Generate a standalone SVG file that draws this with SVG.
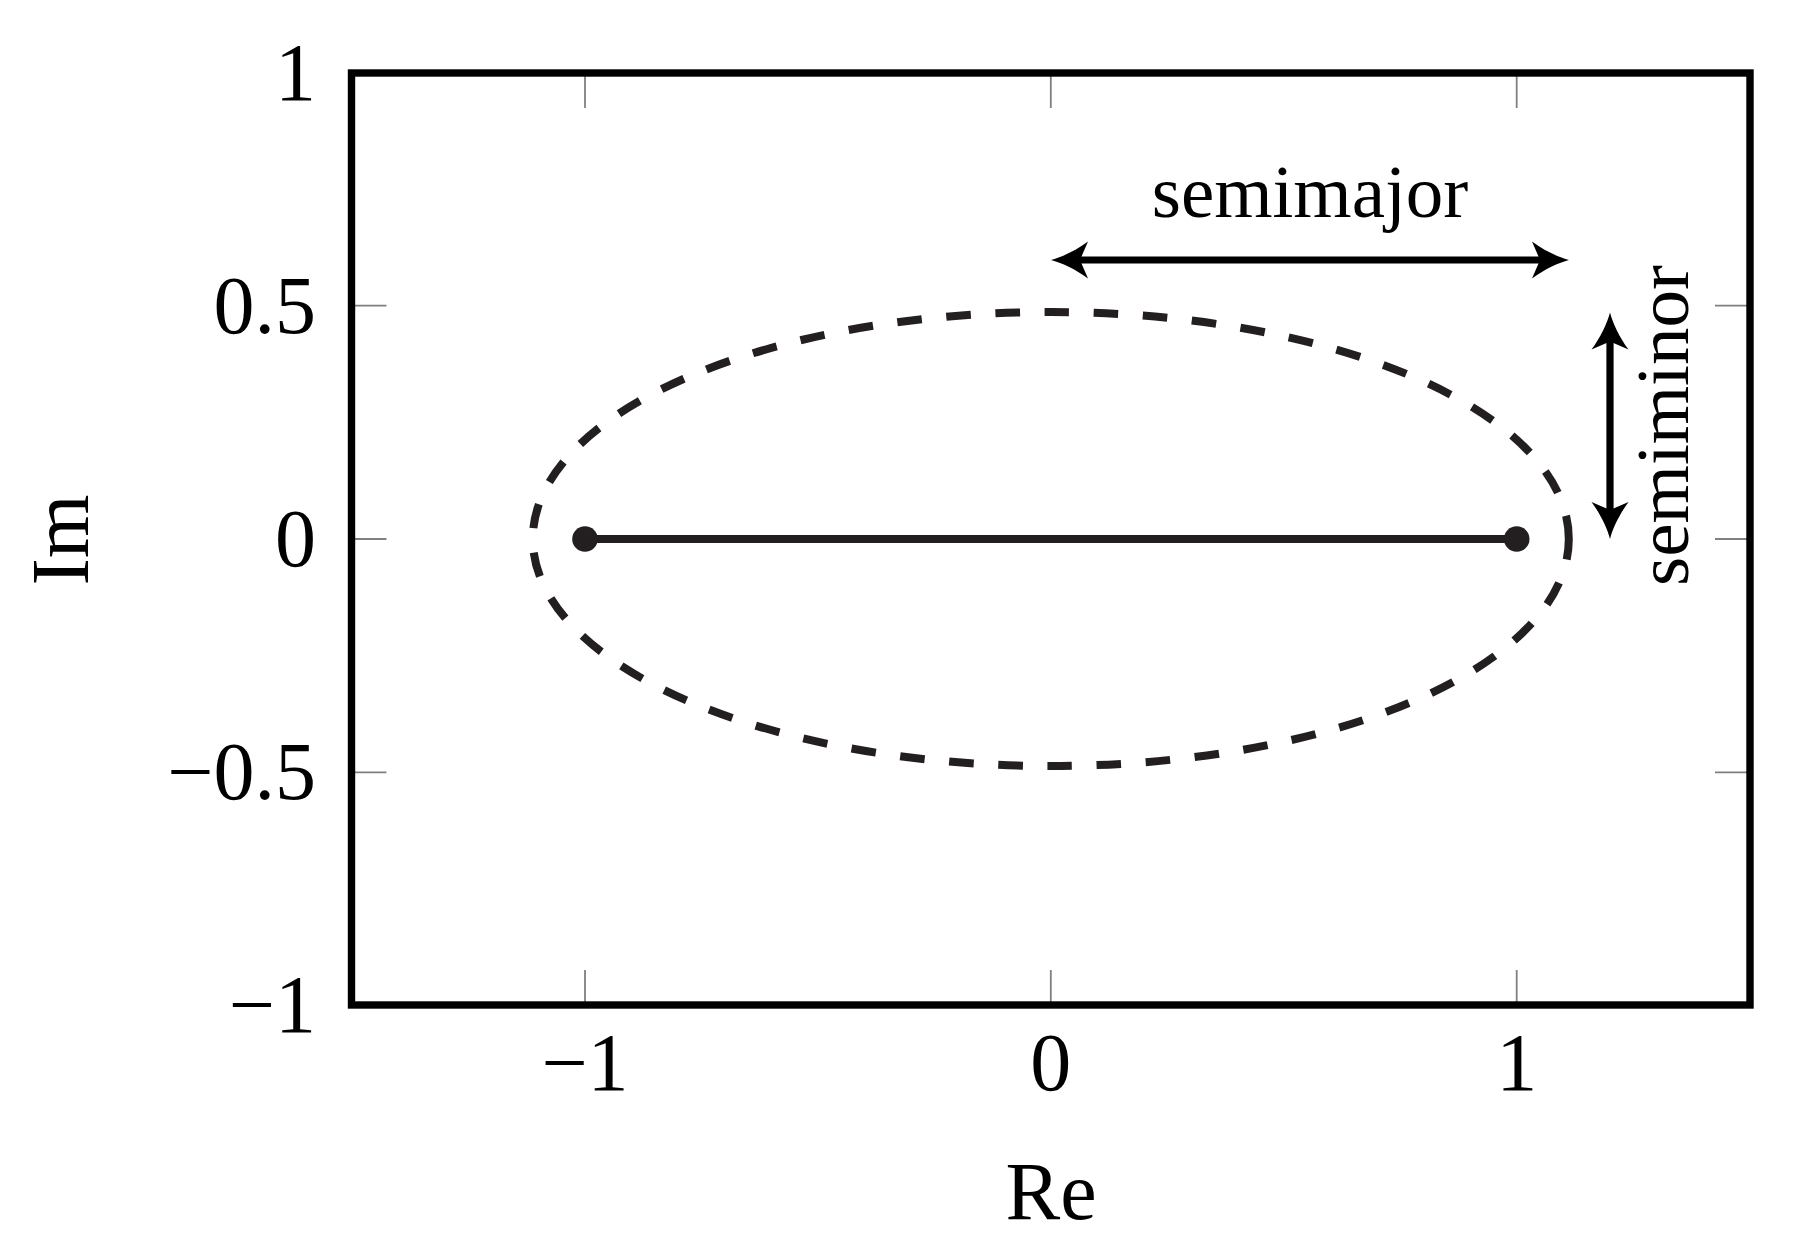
<svg xmlns="http://www.w3.org/2000/svg" width="1806" height="1258" viewBox="0 0 1806 1258">
<style>
text{font-family:"Liberation Serif","DejaVu Serif",serif;fill:#000}
.tick{stroke:#808080;stroke-width:1.8;fill:none}
.lbl{font-size:82px}
.ann{font-size:75px}
.dark{stroke:#231f20;fill:none}
</style>
<defs>
<path id="head" d="M0,0 C-10,-2.5 -25,-9.5 -37,-18.5 L-29,0 L-37,18.5 C-25,9.5 -10,2.5 0,0 Z" fill="#000"/>
</defs>
<rect x="0" y="0" width="1806" height="1258" fill="#fff"/>
<g id="ticks">
<path class="tick" d="M585,1005V970M1050.8,1005V970M1516.7,1005V970M585,73V108M1050.8,73V108M1516.7,73V108"/>
<path class="tick" d="M351.5,305.7H386.5M351.5,539H386.5M351.5,772.3H386.5M1750,305.7H1715M1750,539H1715M1750,772.3H1715"/>
</g>
<g id="tick-labels" class="lbl">
<text x="585" y="1090" text-anchor="middle">−1</text>
<text x="1050.8" y="1090" text-anchor="middle">0</text>
<text x="1516.7" y="1090" text-anchor="middle">1</text>
<text x="316" y="100" text-anchor="end">1</text>
<text x="316" y="333" text-anchor="end">0.5</text>
<text x="316" y="566" text-anchor="end">0</text>
<text x="316" y="799" text-anchor="end">−0.5</text>
<text x="316" y="1032" text-anchor="end">−1</text>
</g>
<g id="axis-labels" class="lbl">
<text x="1051" y="1219" text-anchor="middle">Re</text>
<text transform="translate(88,540) rotate(-90)" text-anchor="middle">Im</text>
</g>
<g id="ellipse">
<ellipse class="dark" cx="1050.8" cy="539" rx="518" ry="227" stroke-width="8" stroke-dasharray="24.6 24.6" stroke-dashoffset="4"/>
</g>
<g id="segment">
<line class="dark" x1="585" y1="539" x2="1516.7" y2="539" stroke-width="8"/>
<circle cx="585" cy="539" r="12.8" fill="#231f20"/>
<circle cx="1516.7" cy="539" r="12.8" fill="#231f20"/>
</g>
<g id="connectors">
<g id="semimajor-arrow">
<line x1="1076" y1="260" x2="1544" y2="260" stroke="#000" stroke-width="7.2"/>
<use href="#head" transform="translate(1569,260)"/>
<use href="#head" transform="translate(1051,260) rotate(180)"/>
</g>
<g id="semiminor-arrow">
<line x1="1610" y1="338" x2="1610" y2="514" stroke="#000" stroke-width="7.2"/>
<use href="#head" transform="translate(1610,312.5) rotate(-90)"/>
<use href="#head" transform="translate(1610,539) rotate(90)"/>
</g>
</g>
<g id="annotations" class="ann">
<text x="1310" y="217" text-anchor="middle">semimajor</text>
<text transform="translate(1688,425.5) rotate(-90)" text-anchor="middle">semiminor</text>
</g>
<g id="frame">
<rect x="351.5" y="73" width="1398.5" height="932" fill="none" stroke="#000" stroke-width="7.4"/>
</g>
</svg>
